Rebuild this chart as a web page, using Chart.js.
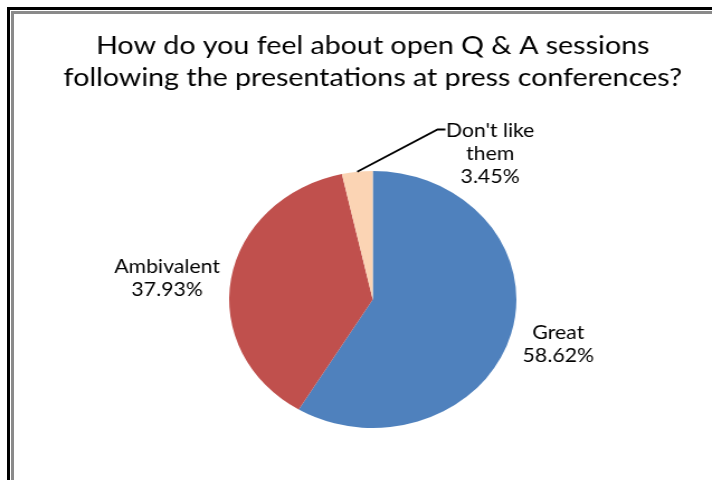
<!DOCTYPE html>
<html>
<head>
<meta charset="utf-8">
<script src="https://cdn.jsdelivr.net/npm/chart.js@4.4.1/dist/chart.umd.min.js"></script>
<style>
    html, body { margin: 0; padding: 0; background: #fff; }
    body { width: 712px; height: 480px; position: relative; overflow: hidden; }
    .frame { position: absolute; right: 0; bottom: 0; }
    .frame-outer { left: 7px; top: 7px; border-left: 3px solid #000; border-top: 3px solid #000; }
    .frame-inner { left: 11px; top: 11px; border-left: 3px solid #8a8a8a; border-top: 3px solid #8a8a8a; }
    /* chart is laid out narrower and stretched sideways */
    #wrap { position: absolute; left: 0; top: 0; width: 667px; height: 480px; transform: scaleX(1.1177); transform-origin: 0 0; }
</style>
</head>
<body>
<div class="frame frame-outer"></div>
<div class="frame frame-inner"></div>
<div id="wrap"><canvas id="qa-pie"></canvas></div>

<script>
const titleLines = ['How do you feel about open Q & A sessions', 'following the presentations at press conferences?'];
const categories = ['Great', 'Ambivalent', "Don't like them"];
const shares = [58.62, 37.93, 3.45];
const labelLines = [['Great', '58.62%'], ['Ambivalent', '37.93%'], ["Don't like", 'them', '3.45%']];
const sliceColors = ['#4F81BD', '#C0504D', '#FBD4B4'];

const FONT = 'Lato, "Open Sans", sans-serif';

// where each label sits, relative to the pie centre
const labelSpots = [
    { dx: 166, dy: 45 },
    { dx: -184, dy: -21 },
    { dx: 105, dy: -146 }
];

const sliceLabels = {
    id: 'sliceLabels',
    afterDatasetsDraw(chart) {
        const ctx = chart.ctx;
        const arcs = chart.getDatasetMeta(0).data;
        ctx.save();
        ctx.font = '19px ' + FONT;
        ctx.fillStyle = '#000';
        ctx.textAlign = 'center';
        ctx.textBaseline = 'middle';
        const lh = 23;
        arcs.forEach((arc, i) => {
            const spot = labelSpots[i];
            const cx = arc.x + spot.dx;
            const cy = arc.y + spot.dy;
            const lines = labelLines[i];
            const y0 = cy - (lines.length - 1) * lh / 2;
            lines.forEach((t, k) => ctx.fillText(t, cx, y0 + k * lh));

            // leader line for the thin slice
            if (i === 2) {
                const mid = (arc.startAngle + arc.endAngle) / 2;
                const ex = arc.x + Math.cos(mid) * arc.outerRadius;
                const ey = arc.y + Math.sin(mid) * arc.outerRadius;
                ctx.beginPath();
                ctx.strokeStyle = '#000';
                ctx.lineWidth = 1.8;
                ctx.moveTo(ex, ey);
                ctx.lineTo(cx - 47, y0 - 1);
                ctx.lineTo(cx - 40, y0 - 1);
                ctx.stroke();
            }
        });
        ctx.restore();
    }
};

new Chart(document.getElementById('qa-pie'), {
    type: 'pie',
    data: {
        labels: categories,
        datasets: [{
            data: shares,
            backgroundColor: sliceColors,
            borderWidth: 0
        }]
    },
    options: {
        responsive: true,
        maintainAspectRatio: false,
        animation: false,
        layout: { padding: { left: 0, right: 0, top: 0, bottom: 52 } },
        plugins: {
            legend: { display: false },
            tooltip: { enabled: false },
            title: {
                display: true,
                text: titleLines,
                color: '#000',
                font: { family: FONT, size: 25.6, weight: 'normal', lineHeight: 1.25 },
                padding: { top: 30, bottom: 77 }
            }
        }
    },
    plugins: [sliceLabels]
});
</script>
</body>
</html>
